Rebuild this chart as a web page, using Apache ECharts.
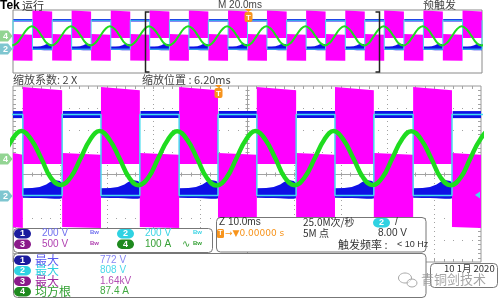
<!DOCTYPE html>
<html><head><meta charset="utf-8">
<script src="https://cdn.jsdelivr.net/npm/echarts/dist/echarts.min.js"></script>
<style>html,body{margin:0;padding:0;background:#fff}#c{width:500px;height:300px}</style>
</head><body><div id="c"></div>
<script>
// ===== values =====
// ch2 (trigger source) rising / falling edges, ms (trigger at 0)
const edgeRise = [-100, -83.3, -66.7, -50, -33.3, -16.7, 0, 16.7, 33.3, 50, 66.7, 83.3, 100];
const edgeFall = [-91.7, -75, -58.3, -41.7, -25, -8.3, 8.3, 25, 41.7, 58.3, 75, 91.7];
// ch4 current (A): sample times after each rising edge (ms) and readings per cycle
const greenPhase = [-0.3, 1.8, 3.9, 6.0, 8.0, 10.1, 12.3, 14.3];
const greenAmps = [
  [-119, -85, 1, 88, 126, 89, 1, -85],
  [-118, -84, 2, 89, 127, 88, 0, -84],
  [-120, -86, 1, 88, 126, 89, 1, -85],
  [-119, -85, 0, 88, 127, 88, 0, -86],
  [-118, -84, 1, 89, 127, 89, 1, -84],
  [-119, -85, 2, 88, 126, 88, 0, -85],
  [-120, -86, 1, 89, 127, 89, 1, -85],
  [-119, -84, 0, 88, 127, 88, 0, -84],
  [-118, -85, 1, 89, 126, 89, 1, -85],
  [-119, -86, 2, 88, 127, 88, 0, -86],
  [-120, -85, 1, 89, 127, 89, 1, -85],
  [-119, -84, 0, 88, 126, 88, 0, -84],
  [-118, -85, 1, 88, 127, 89, 1, -85]
];
// ch1 voltage band (V): high half, and low half profile (ms after falling edge)
const ch1HighBand = [772, 708];
const ch1LowDt  = [0, 2, 3.6, 5, 5.8, 6.8, 7.9, 8.35];
const ch1LowTop = [70, 72, 82, 105, 127, 145, 136, 120];
const ch1LowBot = [-15, -18, -18, -20, -22, -25, -25, -20];
// ch2 voltage levels (V): low, high
const ch2Levels = [5, 740];
// ch3 PWM envelope (V) at start / end of each half
const ch3UpTop = [1600, 1530];
const ch3UpBot = [-150, -150];
const ch3LowTop = [100, 60];
const ch3LowBot = [-1580, -1600];
// zoom window (ms) shown in the lower panel, trigger
const zoomRange = [-43.8, 56.2];
const triggerTime = 0;
const trigLevelV = 8;
// texts
const chScaleText = ['200 V', '200 V', '500 V', '100 A'];
const measLabels = ['最大', '最大', '最大', '均方根'];
const measValues = ['772 V', '808 V', '1.64kV', '87.4 A'];

// ===== channel vertical settings (per-div scale, offset in div) =====
const CH1 = {scale: 200, off: -1}, CH2 = {scale: 200, off: -1},
      CH3 = {scale: 500, off: 0.75}, CH4 = {scale: 100, off: 0.68};
const dv = (v, ch) => ch.off + v / ch.scale;

const MAG = '#ff00ff', BLUE = '#0f10e6', CYAN = '#45dcee', GREEN = '#1fdc1f', ORANGE = '#f7941d';

// ---- build polygons ----
const magPolys = [], bluePolys = [];
for (let i = 0; i < edgeFall.length; i++) {
  const r = edgeRise[i], f = edgeFall[i], r2 = edgeRise[i + 1];
  magPolys.push({c: MAG, pts: [[r, dv(ch3LowTop[0], CH3)], [f, dv(ch3LowTop[1], CH3)], [f, dv(ch3LowBot[1], CH3)], [r, dv(ch3LowBot[0], CH3)]]});
  magPolys.push({c: MAG, pts: [[f, dv(ch3UpTop[0], CH3)], [r2, dv(ch3UpTop[1], CH3)], [r2, dv(ch3UpBot[1], CH3)], [f, dv(ch3UpBot[0], CH3)]]});
  bluePolys.push({c: BLUE, pts: [[r + 0.15, dv(ch1HighBand[0], CH1)], [f, dv(ch1HighBand[0], CH1)], [f, dv(ch1HighBand[1], CH1)], [r + 0.15, dv(ch1HighBand[1], CH1)]]});
  const top = ch1LowDt.map((d, k) => [f + d, dv(ch1LowTop[k], CH1)]);
  const bot = ch1LowDt.map((d, k) => [f + d, dv(ch1LowBot[k], CH1)]).reverse();
  bluePolys.push({c: BLUE, pts: top.concat(bot)});
}
const cyanData = [];
for (let i = 0; i < edgeRise.length; i++) {
  cyanData.push([edgeRise[i], dv(ch2Levels[0], CH2)], [edgeRise[i], dv(ch2Levels[1], CH2)]);
  if (i < edgeFall.length) cyanData.push([edgeFall[i], dv(ch2Levels[1], CH2)], [edgeFall[i], dv(ch2Levels[0], CH2)]);
}
const greenData = [];
edgeRise.forEach((r, i) => greenPhase.forEach((p, j) => greenData.push([r + p, dv(greenAmps[i][j], CH4)])));

function polyRender(polys) {
  return function (params, api) {
    const p = polys[api.value(2)];
    const cs = params.coordSys;
    const pts = p.pts.map(q => {
      const c = api.coord(q);
      return [Math.min(Math.max(c[0], cs.x), cs.x + cs.width), c[1]];
    });
    return {type: 'polygon', shape: {points: pts}, style: {fill: p.c}};
  };
}

// graticule for the main panel (pure style, derived from grid rect)
function graticule(params, api) {
  const cs = params.coordSys;
  const x0 = cs.x, y0 = cs.y, w = cs.width, h = cs.height;
  const dw = w / 10, dh = h / 8;
  const ch = [];
  const col = '#a2a2a2';
  const dot = (x, y) => ch.push({type: 'rect', shape: {x: Math.round(x), y: Math.round(y), width: 1, height: 1}, style: {fill: col}});
  for (let i = 1; i < 10; i++) { if (i === 5) continue; for (let k = 1; k < 40; k++) dot(x0 + i * dw, y0 + k * dh / 5); }
  for (let j = 1; j < 8; j++) { if (j === 4) continue; for (let k = 1; k < 50; k++) dot(x0 + k * dw / 5, y0 + j * dh); }
  const xc = Math.round(x0 + 5 * dw) + 0.5, yc = Math.round(y0 + 4 * dh) + 0.5;
  const ln = (a, b, c, d) => ch.push({type: 'line', shape: {x1: a, y1: b, x2: c, y2: d}, style: {stroke: col, lineWidth: 1}});
  ln(x0, yc, x0 + w, yc); ln(xc, y0, xc, y0 + h);
  for (let k = 1; k < 50; k++) { const x = Math.round(x0 + k * dw / 5) + 0.5; ln(x, yc - 2, x, yc + 2); ln(x, y0, x, y0 + 3); ln(x, y0 + h - 3, x, y0 + h); }
  for (let k = 1; k < 40; k++) { const y = Math.round(y0 + k * dh / 5) + 0.5; ln(xc - 2, y, xc + 2, y); ln(x0, y, x0 + 3, y); ln(x0 + w - 3, y, x0 + w, y); }
  return {type: 'group', children: ch};
}

function trigMarker(params, api) {
  const c = api.coord([api.value(0), api.value(1)]);
  const x = Math.round(c[0]), y = params.coordSys.y;
  return {type: 'group', children: [
    {type: 'polygon', shape: {points: [[x - 3, y - 1], [x + 4, y - 1], [x + 0.5, y + 2]]}, style: {fill: ORANGE}},
    {type: 'rect', shape: {x: x - 3.5, y: y + 2, width: 8, height: 10, r: 2}, style: {fill: ORANGE}},
    {type: 'text', style: {x: x + 0.5, y: y + 7.5, text: 'T', fill: '#fff', font: 'bold 8px "Liberation Sans"', align: 'center', verticalAlign: 'middle'}}
  ]};
}

const tagStyle = [{fill: '#93d493', t: '4'}, {fill: '#7ec6d0', t: '2'}];
function chanTags(params, api) {
  const c = api.coord([api.value(0), api.value(1)]);
  const s = tagStyle[params.dataIndex];
  const y = Math.round(c[1]);
  return {type: 'group', children: [
    {type: 'polygon', shape: {points: [[0, y - 5.5], [8, y - 5.5], [12.5, y], [8, y + 5.5], [0, y + 5.5]]}, style: {fill: s.fill}},
    {type: 'text', style: {x: 5.5, y: y + 0.5, text: s.t, fill: '#fff', font: 'bold 9px "Liberation Sans"', align: 'center', verticalAlign: 'middle'}}
  ]};
}

function bracket(params, api) {
  const a = api.coord([zoomRange[0], 4]), b = api.coord([zoomRange[1], -4]);
  const xa = Math.round(a[0]) + 0.5, xb = Math.round(b[0]) + 0.5, ya = a[1] + 2, yb = b[1] - 1;
  const st = {stroke: '#222', lineWidth: 1.5, fill: null};
  return {type: 'group', children: [
    {type: 'polyline', shape: {points: [[xa + 4, ya], [xa, ya], [xa, yb], [xa + 4, yb]]}, style: st},
    {type: 'polyline', shape: {points: [[xb - 4, ya], [xb, ya], [xb, yb], [xb - 4, yb]]}, style: st}
  ]};
}

function levelArrow(params, api) {
  const c = api.coord([zoomRange[1], dv(trigLevelV, CH2)]);
  const x = c[0] - 1, y = c[1];
  return {type: 'polygon', shape: {points: [[x, y - 3.5], [x, y + 3.5], [x - 5, y]]}, style: {fill: CYAN}};
}

const series = [];
[0, 1].forEach(g => {
  const ax = {xAxisIndex: g, yAxisIndex: g};
  if (g === 1) series.push(Object.assign({type: 'custom', renderItem: graticule, data: [[0, 0]], z: 1, silent: true}, ax));
  series.push(Object.assign({type: 'custom', renderItem: polyRender(bluePolys), data: bluePolys.map((p, i) => [p.pts[0][0], p.pts[0][1], i]), z: 2, silent: true}, ax));
  series.push(Object.assign({type: 'custom', renderItem: polyRender(magPolys), data: magPolys.map((p, i) => [p.pts[0][0], p.pts[0][1], i]), z: 3, silent: true}, ax));
  series.push(Object.assign({type: 'line', data: cyanData, symbol: 'none', lineStyle: {color: CYAN, width: g ? 1.5 : 1}, z: 4, silent: true}, ax));
  series.push(Object.assign({type: 'line', data: greenData, symbol: 'none', smooth: 0.45, lineStyle: {color: GREEN, width: g ? 4.5 : 2}, z: 5, silent: true}, ax));
  series.push(Object.assign({type: 'custom', renderItem: trigMarker, data: [[triggerTime, 4]], z: 7, silent: true}, ax));
  series.push(Object.assign({type: 'custom', renderItem: chanTags, data: [[0, dv(0, CH4)], [0, dv(0, CH2)]], z: 7, silent: true}, ax));
});
series.push({type: 'custom', xAxisIndex: 0, yAxisIndex: 0, renderItem: bracket, data: [zoomRange], z: 8, silent: true});
series.push({type: 'custom', xAxisIndex: 1, yAxisIndex: 1, renderItem: levelArrow, data: [[zoomRange[1], 0]], z: 8, silent: true});

// ===== text panels =====
const FONT = '"Noto Sans CJK SC", "Liberation Sans", sans-serif';
const G = [];
const T = (x, y, s, fill, size, o) => { o = o || {}; G.push({type: 'text', x, y, z: 101, style: {text: s, fill, font: (o.bold ? 'bold ' : '') + size + 'px ' + (o.font || FONT), align: o.align || 'left', verticalAlign: 'middle', opacity: o.op == null ? 1 : o.op}}); };
const R = (x, y, w, h, o) => G.push({type: 'rect', z: o.z || 100, shape: {x, y, width: w, height: h, r: o.r || 0}, style: {fill: o.fill || '#fff', stroke: o.stroke || null, lineWidth: 1}});
const badge = (x, y, num, fill) => { R(x, y - 4.5, 17, 9.5, {fill, r: 5, z: 101}); T(x + 8.5, y + 0.5, num, '#fff', 9, {bold: true, align: 'center', font: '"Liberation Sans"'}); };

// header
T(0, 6, 'Tek', '#000', 12, {bold: true, font: '"Liberation Sans"'});
T(22, 6, '运行', '#333', 11);
T(218, 5.5, 'M 20.0ms', '#444', 10, {font: '"Liberation Sans"'});
T(423, 5, '预触发', '#444', 11);
T(13, 79.5, '缩放系数: 2 X', '#444', 11);
T(142, 79.5, '缩放位置 : 6.20ms', '#444', 11);

// channel box
R(13.5, 228.5, 199, 24, {stroke: '#777', r: 4});
const chBadge = ['#1b1b9e', '#2fd2e2', '#8a1a8a', '#1e8a1e'];
const chText = ['#7070ee', '#3cd4e4', '#b040b0', '#35a035'];
[[14, 233.5], [117, 233.5], [14, 244], [117, 244]].forEach((p, i) => {
  badge(p[0], p[1], String(i + 1), chBadge[i]);
  T(p[0] + 28, p[1], chScaleText[i], chText[i], 10, {font: '"Liberation Sans"'});
  if (i === 3) T(p[0] + 65, p[1], '∿', chText[i], 10, {font: '"DejaVu Sans"'});
  T(p[0] + 76, p[1] - 1, 'Bw', chText[i], 6, {font: '"Liberation Sans"', bold: true});
});

// timebase box
R(216.5, 217.5, 209.5, 34.5, {stroke: '#777', r: 4});
T(219, 222.5, 'Z 10.0ms', '#333', 10, {font: '"Liberation Sans"'});
T(303, 222.5, '25.0M次/秒', '#333', 10);
badge(373, 222.5, '2', '#2fd2e2');
T(395, 222, '/', '#333', 10, {font: '"Liberation Sans"'});
R(217, 229, 7, 9, {fill: ORANGE, r: 1.5, z: 101});
T(220.5, 233.5, 'T', '#fff', 7, {bold: true, align: 'center', font: '"Liberation Sans"'});
T(225, 233.5, '→▼0.00000 s', ORANGE, 9, {font: '"DejaVu Sans"'});
T(303, 233.5, '5M 点', '#333', 10);
T(378, 233.5, '8.00 V', '#333', 10, {font: '"Liberation Sans"'});
T(338, 244.5, '触发频率 :', '#333', 11);
T(397, 244.5, '< 10 Hz', '#333', 9, {font: '"Liberation Sans"'});

// measurement box
R(13.5, 253.5, 412.5, 44, {stroke: '#777', r: 4});
const measLab = ['#5a5af0', '#2ed0e0', '#a02aa0', '#2e9e2e'];
const measVal = ['#8686f4', '#4cd8ea', '#b450b4', '#42aa42'];
[260, 270.5, 281, 291.5].forEach((y, i) => {
  badge(14, y, String(i + 1), chBadge[i]);
  T(35, y, measLabels[i], measLab[i], 12);
  T(100, y, measValues[i], measVal[i], 10, {font: '"Liberation Sans"'});
});

// date box + watermark
R(430.5, 263.5, 67, 24, {stroke: '#777', r: 4});
T(444, 268.5, '10 1月 2020', '#333', 9.5);
G.push({type: 'ellipse', z: 102, shape: {cx: 405, cy: 278, rx: 6.5, ry: 5}, style: {fill: 'rgba(255,255,255,0.5)', stroke: '#a8a8a8', lineWidth: 1}});
G.push({type: 'ellipse', z: 102, shape: {cx: 412, cy: 283, rx: 5, ry: 4}, style: {fill: 'rgba(255,255,255,0.5)', stroke: '#a8a8a8', lineWidth: 1}});
T(421, 279.5, '青铜剑技术', '#9a9a9a', 13, {op: 0.9});

const chart = echarts.init(document.getElementById('c'), null, {renderer: 'canvas', width: 500, height: 300});
chart.setOption({
  animation: false,
  backgroundColor: '#fff',
  grid: [
    {left: 13, top: 10, width: 469, height: 63, show: true, borderColor: '#8a8a8a', borderWidth: 1, backgroundColor: '#fff'},
    {left: 13, top: 86, width: 468, height: 176, show: true, borderColor: '#9a9a9a', borderWidth: 1, backgroundColor: '#fff'}
  ],
  xAxis: [
    {gridIndex: 0, type: 'value', min: -100, max: 100, show: false},
    {gridIndex: 1, type: 'value', min: zoomRange[0], max: zoomRange[1], show: false}
  ],
  yAxis: [
    {gridIndex: 0, type: 'value', min: -4, max: 4, show: false},
    {gridIndex: 1, type: 'value', min: -4, max: 4, show: false}
  ],
  series,
  graphic: G
});
</script></body></html>
